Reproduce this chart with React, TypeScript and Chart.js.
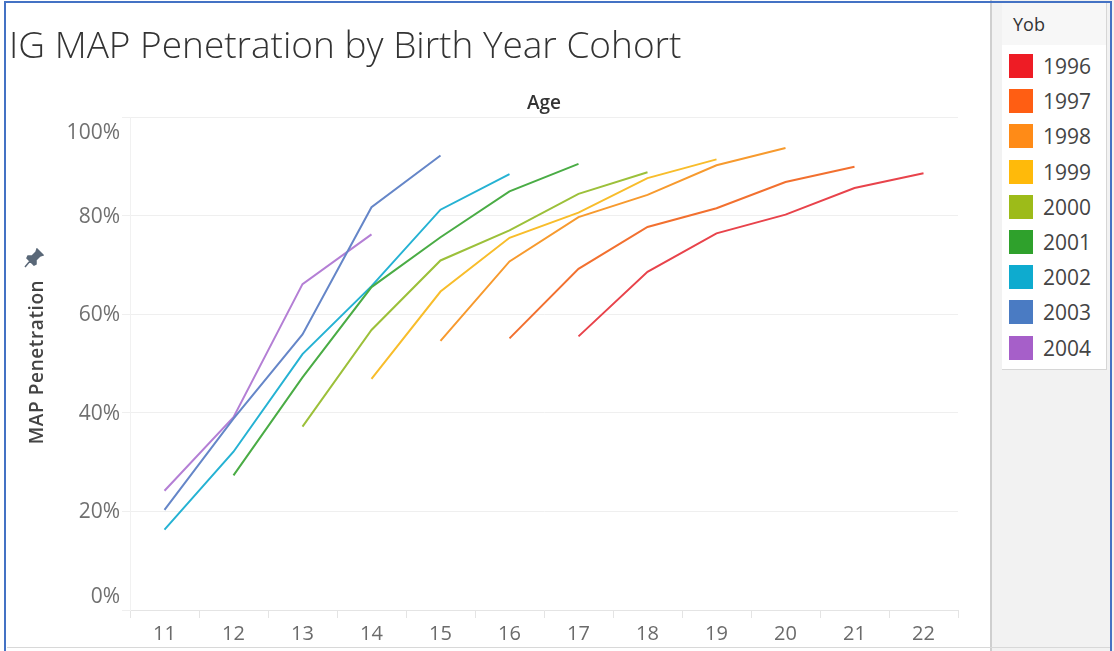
import React, { useEffect, useRef } from "react";
import { Chart, registerables } from "chart.js";
Chart.register(...registerables);

const ages = ["11", "12", "13", "14", "15", "16", "17", "18", "19", "20", "21", "22"];
const years = ["1996", "1997", "1998", "1999", "2000", "2001", "2002", "2003", "2004"];
const swatchColors = ["#ee1c25", "#ff5e13", "#ff8b17", "#ffba0a", "#9dbb19", "#2fa12c", "#0eabcf", "#4a7bc3", "#a65fc9"];
const lineColors = ["#e8434b", "#f2702f", "#f79a2e", "#f8bd2b", "#9cc03a", "#4aac45", "#25b2d3", "#6586c8", "#b47fd5"];
const yTicks = [0, 20, 40, 60, 80, 100];

const s1996 = [null, null, null, null, null, null, 55.5, 68.6, 76.4, 80.2, 85.6, 88.6];
const s1997 = [null, null, null, null, null, 55.1, 69.2, 77.7, 81.5, 86.8, 89.9, null];
const s1998 = [null, null, null, null, 54.6, 70.7, 79.7, 84.2, 90.2, 93.7, null, null];
const s1999 = [null, null, null, 46.9, 64.6, 75.5, 80.6, 87.6, 91.4, null, null, null];
const s2000 = [null, null, 37.2, 56.8, 70.9, 77.0, 84.4, 88.8, null, null, null, null];
const s2001 = [null, 27.3, 47.2, 65.5, 75.6, 84.9, 90.5, null, null, null, null, null];
const s2002 = [16.3, 32.1, 51.9, 65.7, 81.2, 88.4, null, null, null, null, null, null];
const s2003 = [20.3, 38.8, 55.9, 81.7, 92.2, null, null, null, null, null, null, null];
const s2004 = [24.2, 39.1, 66.1, 76.2, null, null, null, null, null, null, null, null];
const seriesValues = [s1996, s1997, s1998, s1999, s2000, s2001, s2002, s2003, s2004];

const FONT = '"Open Sans", "Noto Sans", sans-serif';

const yLabelPlugin = {
  id: "yLabels",
  afterDraw(chart: any) {
    const { ctx, chartArea, scales } = chart;
    const ys = scales.y;
    ctx.save();
    ctx.font = `21px ${FONT}`;
    ctx.fillStyle = "#707070";
    ctx.textAlign = "right";
    ctx.textBaseline = "middle";
    yTicks.forEach((v) => {
      let y = ys.getPixelForValue(v) + 1;
      y = Math.min(y, chartArea.bottom - 13);
      y = Math.max(y, chartArea.top + 16);
      ctx.fillText(v + "%", 120, y);
    });
    ctx.restore();
  },
};

function App() {
  const ref = useRef<HTMLCanvasElement | null>(null);
  useEffect(() => {
    if (!ref.current) return;
    const chart = new Chart(ref.current, {
      type: "line",
      data: {
        labels: ages,
        datasets: years.map((y, i) => ({
          label: y,
          data: seriesValues[i],
          borderColor: lineColors[i],
          backgroundColor: lineColors[i],
          borderWidth: 2,
          pointRadius: 0,
          tension: 0,
          spanGaps: false,
        })),
      },
      options: {
        animation: false,
        responsive: false,
        maintainAspectRatio: false,
        layout: { padding: { top: 117, right: 32, bottom: 0, left: 0 } },
        plugins: {
          legend: { display: false },
          tooltip: { enabled: false },
          title: { display: false },
        },
        scales: {
          x: {
            type: "category",
            offset: true,
            grid: { offset: true, drawOnChartArea: false, drawTicks: true, tickLength: 8, color: "#e4e4e4" },
            border: { display: true, color: "#e4e4e4" },
            ticks: { font: { family: FONT, size: 20 }, color: "#6b6b6b", padding: 4, maxRotation: 0, autoSkip: false },
            afterFit: (s: any) => {
              s.height = 41;
            },
          },
          y: {
            min: 0,
            max: 100,
            ticks: { stepSize: 20, display: false },
            grid: { color: "#efefef", tickLength: 8, drawTicks: true },
            border: { display: true, color: "#f1f1f1" },
            afterFit: (s: any) => {
              s.width = 130;
            },
          },
        },
      },
      plugins: [yLabelPlugin],
    } as any);
    return () => chart.destroy();
  }, []);

  return (
    <div style={{ position: "absolute", left: 0, top: 0, width: 1114, height: 651, overflow: "hidden", background: "#ffffff", fontFamily: FONT }}>
      <canvas ref={ref} width={990} height={651} style={{ position: "absolute", left: 0, top: 0, width: 990, height: 651 }} />
      <div style={{ position: "absolute", left: 9, top: 25, fontSize: 37, lineHeight: 1, fontWeight: 300, color: "#333", whiteSpace: "nowrap" }}>
        IG MAP Penetration by Birth Year Cohort
      </div>
      <div style={{ position: "absolute", left: 494, top: 91, width: 100, textAlign: "center", fontSize: 19, lineHeight: "22px", fontWeight: 600, color: "#333" }}>
        Age
      </div>
      <div style={{ position: "absolute", left: 36, top: 362, width: 0, height: 0 }}>
        <div style={{ position: "absolute", left: -110, top: -12, width: 220, textAlign: "center", fontSize: 19, letterSpacing: 0.6, lineHeight: "24px", fontWeight: 600, color: "#444", transform: "rotate(-90deg)", whiteSpace: "nowrap" }}>
          MAP Penetration
        </div>
      </div>
      <svg style={{ position: "absolute", left: 24, top: 248 }} width="20" height="20" viewBox="0 0 20 20">
        <path d="M13 1 L19 7 L16 8 L12 12 L12 16 L10 17 L3 10 L4 8 L8 8 L12 4 Z M6 13 L1 19" fill="#5a6878" stroke="#5a6878" strokeWidth="1.5" />
      </svg>
      <div style={{ position: "absolute", left: 990, top: 0, width: 124, height: 651, background: "#f2f2f2", borderLeft: "2px solid #cfcfcf", boxSizing: "border-box" }} />
      <div style={{ position: "absolute", left: 1002, top: 3, width: 105, height: 367, background: "#ffffff", borderRight: "1px solid #d6d6d6", borderBottom: "1px solid #d6d6d6", boxSizing: "border-box" }}>
        <div style={{ height: 42, background: "#f7f7f7", paddingLeft: 11, fontSize: 18, lineHeight: "42px", color: "#333" }}>Yob</div>
        {years.map((y, i) => (
          <div key={y} style={{ position: "absolute", left: 0, top: 66 - 3 - 12 + i * 35.2, height: 24, width: 105 }}>
            <div style={{ position: "absolute", left: 7, top: 0, width: 24, height: 24, background: swatchColors[i] }} />
            <div style={{ position: "absolute", left: 41, top: -1, fontSize: 21, lineHeight: "26px", color: "#444" }}>{y}</div>
          </div>
        ))}
      </div>
      <div style={{ position: "absolute", left: 7, top: 647, width: 1104, height: 1, background: "#d8d8d8" }} />
      <div style={{ position: "absolute", left: 4, top: 1, width: 1108, height: 680, border: "2px solid #4472c4", boxSizing: "border-box", pointerEvents: "none" }} />
    </div>
  );
}

export default App;
